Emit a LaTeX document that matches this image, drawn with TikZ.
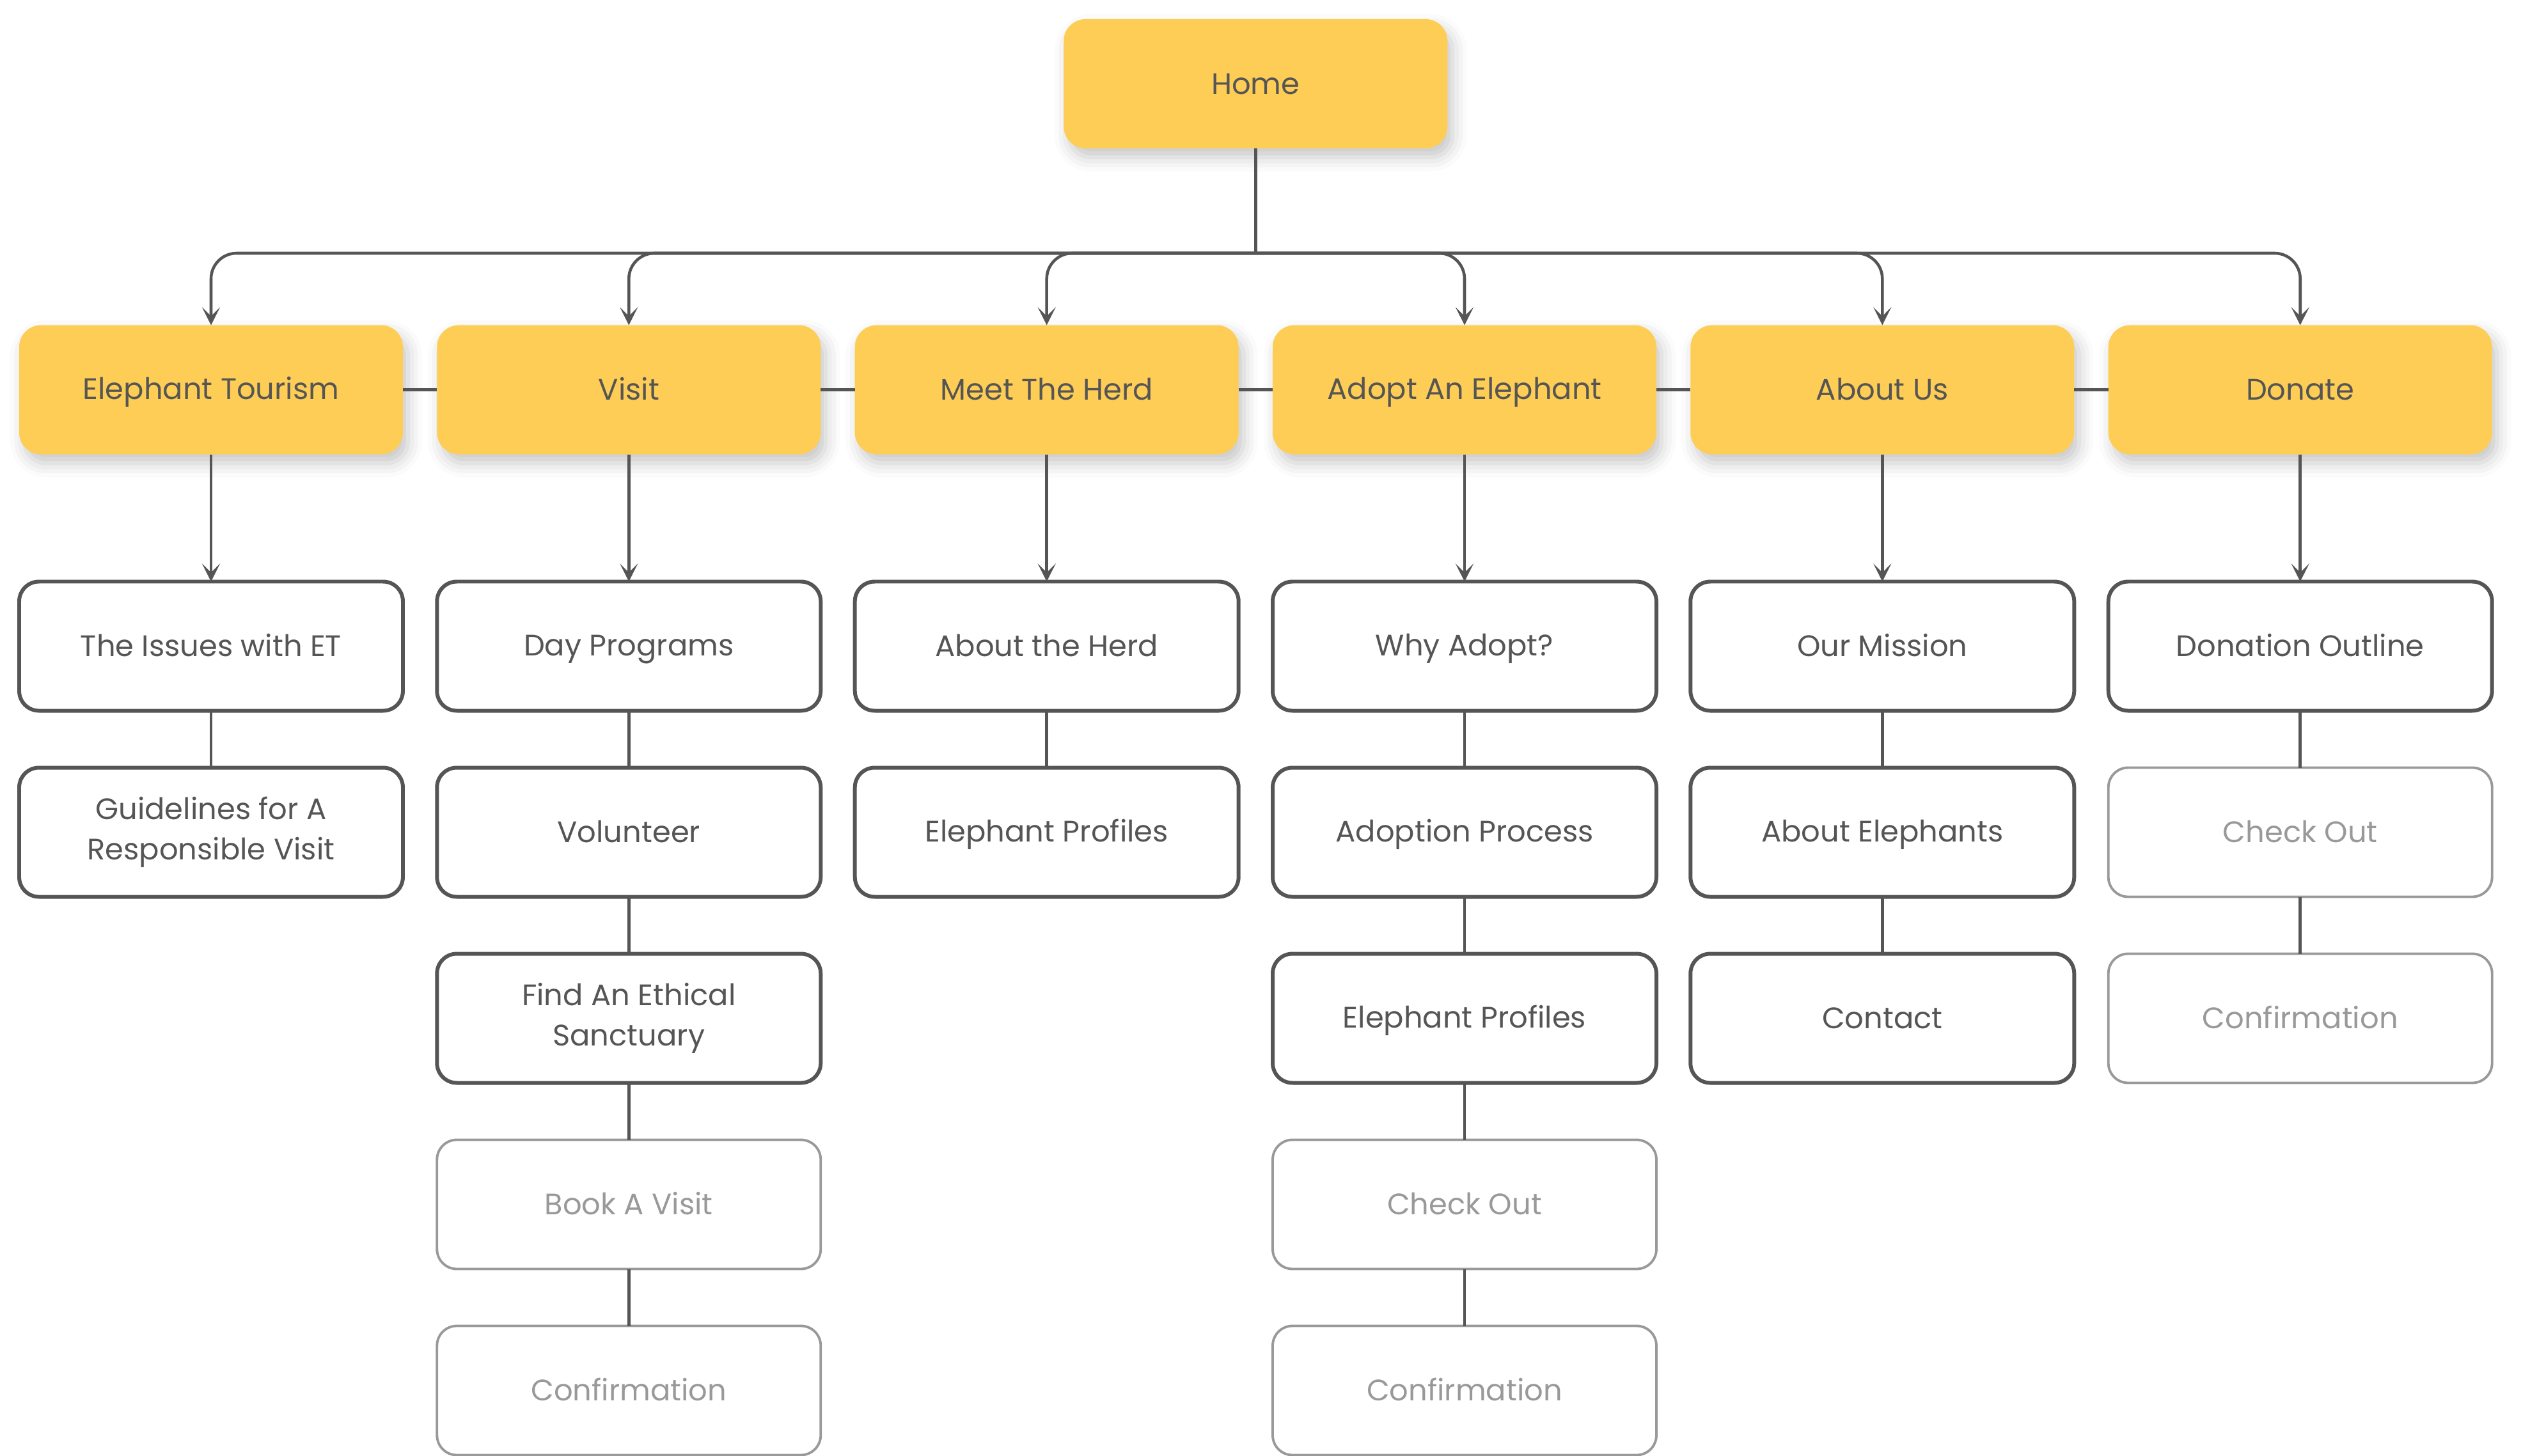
\documentclass[tikz,border=0pt]{standalone}
\usepackage{fontspec}
\setmainfont{Poppins}
\usetikzlibrary{arrows.meta,positioning,shadows.blur}
\definecolor{sunny}{HTML}{FECD55}
\definecolor{ink}{HTML}{555555}
\definecolor{faded}{HTML}{999999}
\newcommand\pagestrut{\rule[-2.8pt]{0pt}{14.8pt}}

\tikzset{
  page/.style={rectangle, rounded corners=0.31cm, minimum width=6cm, minimum height=2.02cm,
    inner sep=0pt, outer sep=0pt, align=center, font=\fontsize{13.2}{18}\selectfont,
    execute at begin node=\pagestrut, execute at end node=\pagestrut},
  mainpage/.style={page, fill=sunny, text=ink, rounded corners=0.34cm,
    blur shadow={shadow xshift=0.08cm, shadow yshift=-0.14cm, shadow blur radius=0.22cm, shadow opacity=22}},
  subpage/.style={page, draw=ink, line width=1.7pt, text=ink},
  laterpage/.style={page, draw=faded, line width=1.1pt, text=faded},
  link/.style={draw=ink, line width=1.3pt},
  arr/.style={link, -{Stealth[length=8pt,width=8pt,inset=4pt]}},
}

\begin{document}
\begin{tikzpicture}
  \useasboundingbox (0,0) rectangle (39.56,-22.77);

  % Startseite
  \node[mainpage] (home) at (19.633,-1.31) {Home};
  \coordinate (bus) at (19.633,-3.96);

  % Hauptmenü
  \node[mainpage] (et)    at (3.30,-6.095)   {Elephant Tourism};
  \node[mainpage] (visit) at (9.833,-6.095)  {Visit};
  \node[mainpage] (herd)  at (16.367,-6.095) {Meet The Herd};
  \node[mainpage] (adopt) at (22.90,-6.095)  {Adopt An Elephant};
  \node[mainpage] (about) at (29.433,-6.095) {About Us};
  \node[mainpage] (don)   at (35.967,-6.095) {Donate};

  % Unterseiten
  \node[subpage] (et1) [below=1.99cm of et]  {The Issues with ET};
  \node[subpage] (et2) [below=0.89cm of et1] {Guidelines for A\\Responsible Visit};

  \node[subpage]   (vi1) [below=1.99cm of visit] {Day Programs};
  \node[subpage]   (vi2) [below=0.89cm of vi1]   {Volunteer};
  \node[subpage]   (vi3) [below=0.89cm of vi2]   {Find An Ethical\\Sanctuary};
  \node[laterpage] (vi4) [below=0.89cm of vi3]   {Book A Visit};
  \node[laterpage] (vi5) [below=0.89cm of vi4]   {Confirmation};

  \node[subpage] (he1) [below=1.99cm of herd] {About the Herd};
  \node[subpage] (he2) [below=0.89cm of he1]  {Elephant Profiles};

  \node[subpage]   (ad1) [below=1.99cm of adopt] {Why Adopt?};
  \node[subpage]   (ad2) [below=0.89cm of ad1]   {Adoption Process};
  \node[subpage]   (ad3) [below=0.89cm of ad2]   {Elephant Profiles};
  \node[laterpage] (ad4) [below=0.89cm of ad3]   {Check Out};
  \node[laterpage] (ad5) [below=0.89cm of ad4]   {Confirmation};

  \node[subpage] (ab1) [below=1.99cm of about] {Our Mission};
  \node[subpage] (ab2) [below=0.89cm of ab1]   {About Elephants};
  \node[subpage] (ab3) [below=0.89cm of ab2]   {Contact};

  \node[subpage]   (do1) [below=1.99cm of don] {Donation Outline};
  \node[laterpage] (do2) [below=0.89cm of do1] {Check Out};
  \node[laterpage] (do3) [below=0.89cm of do2] {Confirmation};

  % Verbindungen
  \draw[link] (home) -- (bus);
  \foreach \m in {et,visit,herd,adopt,about,don} {
    \draw[arr, rounded corners=0.4cm] (bus) -| (\m.north);
  }
  \draw[link] (et) -- (visit);
  \draw[link] (visit) -- (herd);
  \draw[link] (herd) -- (adopt);
  \draw[link] (adopt) -- (about);
  \draw[link] (about) -- (don);

  \draw[arr] (et) -- (et1);
  \draw[arr] (visit) -- (vi1);
  \draw[arr] (herd) -- (he1);
  \draw[arr] (adopt) -- (ad1);
  \draw[arr] (about) -- (ab1);
  \draw[arr] (don) -- (do1);

  \draw[link] (et1) -- (et2);
  \draw[link] (vi1) -- (vi2) (vi2) -- (vi3) (vi3) -- (vi4) (vi4) -- (vi5);
  \draw[link] (he1) -- (he2);
  \draw[link] (ad1) -- (ad2) (ad2) -- (ad3) (ad3) -- (ad4) (ad4) -- (ad5);
  \draw[link] (ab1) -- (ab2) (ab2) -- (ab3);
  \draw[link] (do1) -- (do2) (do2) -- (do3);
\end{tikzpicture}
\end{document}
